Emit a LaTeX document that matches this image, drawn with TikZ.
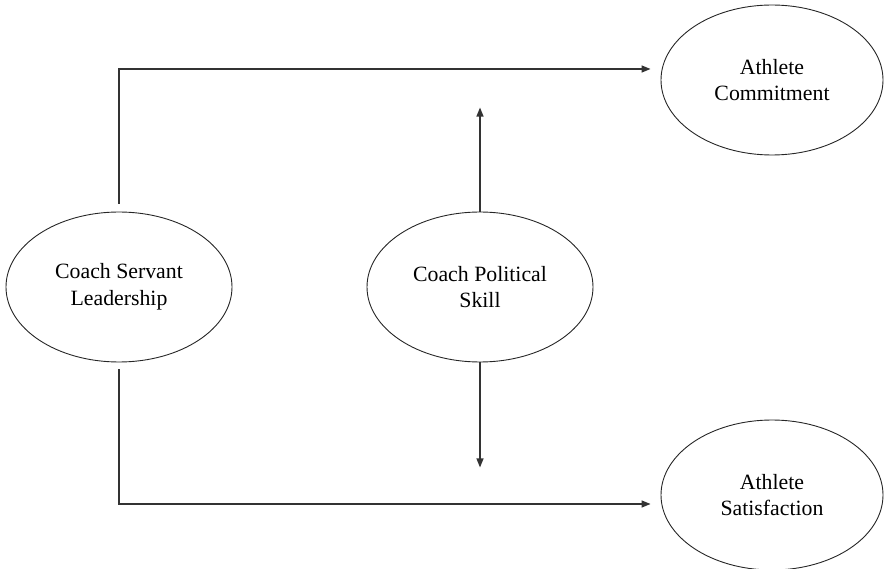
\documentclass[tikz,border=0pt]{standalone}
\usepackage{fontspec}
\setmainfont{Liberation Serif}
\usetikzlibrary{arrows.meta,shapes.geometric}
\begin{document}
\begin{tikzpicture}[x=1pt,y=-1pt,
  construct/.style={draw=black!85,line width=0.9pt,ellipse,inner sep=0pt,
    minimum width=226pt,minimum height=150pt,align=center,
    font=\fontsize{21.8}{26.5}\selectfont},
  outcome/.style={construct,minimum width=222pt},
  link/.style={draw=black!80,line width=1.3pt,
    -{Triangle[length=9pt,width=7pt]}}]
  \useasboundingbox (0,0) rectangle (884,569);
  % constructs
  \node[construct] (csl) at (119,287) {Coach Servant\\Leadership};
  \node[construct] (cps) at (480,287) {Coach Political\\Skill};
  \node[outcome]   (ac)  at (772,80)  {Athlete\\Commitment};
  \node[outcome]   (as)  at (772,495) {Athlete\\Satisfaction};
  % moderator arrows
  \coordinate (upend)   at ([yshift=104pt]cps.north);
  \coordinate (downend) at ([yshift=-105pt]cps.south);
  \draw[link] (cps.north) -- (upend);
  \draw[link] (cps.south) -- (downend);
  % direct paths
  \draw[link] ([yshift=8pt]csl.north) |- ([xshift=-10pt,yshift=11pt]ac.west);
  \draw[link] ([yshift=-7pt]csl.south) |- ([xshift=-10pt,yshift=-9pt]as.west);
\end{tikzpicture}
\end{document}
